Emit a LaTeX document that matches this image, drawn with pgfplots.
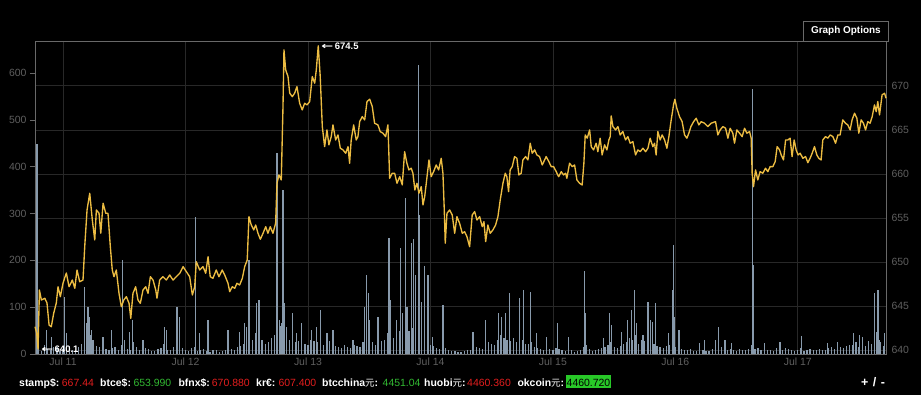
\documentclass[border=0pt]{standalone}
\usepackage{pgfplots}
\usepackage{pgfplotstable}
\pgfplotsset{compat=1.18}
\usepackage{fontspec}
\setmainfont{Liberation Sans}
\newfontfamily\cjk{Noto Sans CJK SC}
\newfontfamily\dejavu{DejaVu Sans}
\definecolor{gridc}{RGB}{40,40,40}
\definecolor{framec}{RGB}{105,105,105}
\definecolor{labc}{RGB}{95,95,95}
\definecolor{pricec}{RGB}{236,188,66}
\definecolor{volc}{RGB}{136,154,172}
\definecolor{redv}{RGB}{228,30,30}
\definecolor{greenv}{RGB}{50,185,50}
\definecolor{okbox}{RGB}{40,200,40}

\pgfplotstableread{
d p
-0.229 642.65
-0.215 641.93
-0.204 640.11
-0.193 646.82
-0.177 645.68
-0.149 645.88
-0.131 645.34
-0.114 642.84
-0.096 642.65
-0.076 644.20
-0.055 645.34
-0.041 647.19
-0.022 646.06
0.000 647.61
0.027 648.75
0.049 647.19
0.076 647.95
0.096 647.01
0.114 649.09
0.136 647.76
0.163 647.95
0.177 651.74
0.196 655.91
0.218 657.81
0.239 654.77
0.259 652.50
0.272 655.91
0.294 655.53
0.308 653.26
0.327 656.67
0.349 655.53
0.367 655.53
0.386 651.74
0.402 649.09
0.416 648.33
0.435 649.09
0.457 646.44
0.476 644.92
0.496 645.68
0.517 646.06
0.539 645.31
0.553 643.60
0.571 646.44
0.593 647.19
0.612 645.68
0.631 645.31
0.653 646.82
0.675 647.19
0.694 646.44
0.713 648.33
0.735 647.95
0.757 646.82
0.767 645.88
0.789 647.95
0.816 648.33
0.843 647.95
0.871 648.52
0.898 647.95
0.925 648.33
0.953 648.72
0.980 649.47
1.007 648.90
1.034 648.33
1.056 646.25
1.075 647.19
1.088 650.03
1.116 649.09
1.143 649.47
1.165 648.72
1.184 650.60
1.202 648.33
1.224 648.15
1.251 649.09
1.273 648.33
1.300 649.09
1.320 648.52
1.347 647.58
1.361 646.63
1.382 647.19
1.402 647.01
1.420 647.58
1.442 647.39
1.464 648.15
1.483 649.47
1.504 650.23
1.518 655.15
1.537 654.20
1.557 653.64
1.573 654.20
1.592 653.26
1.611 652.58
1.633 653.26
1.655 654.01
1.673 653.26
1.692 654.01
1.714 653.26
1.736 654.40
1.747 658.94
1.763 659.89
1.782 659.32
1.796 667.65
1.804 674.09
1.818 671.82
1.837 671.06
1.851 669.17
1.872 668.78
1.891 669.17
1.910 669.92
1.932 668.03
1.953 667.27
1.973 668.03
1.992 667.84
2.014 668.22
2.035 671.06
2.055 670.31
2.068 671.82
2.084 674.55
2.100 671.06
2.117 665.38
2.136 663.10
2.155 665.00
2.171 663.30
2.190 664.24
2.204 665.57
2.226 663.86
2.245 664.43
2.264 662.92
2.286 662.73
2.308 662.35
2.327 663.10
2.340 661.22
2.353 663.86
2.373 665.57
2.394 663.86
2.408 664.24
2.422 665.94
2.443 666.51
2.463 666.14
2.482 668.22
2.504 668.49
2.525 667.65
2.544 665.76
2.571 665.57
2.590 664.81
2.612 664.63
2.634 664.24
2.653 665.57
2.667 659.51
2.688 660.08
2.708 660.08
2.727 658.94
2.749 659.69
2.770 658.75
2.789 662.53
2.808 661.22
2.824 660.46
2.843 660.65
2.857 660.08
2.873 658.18
2.890 658.94
2.906 657.81
2.925 658.56
2.939 656.48
2.953 657.42
2.966 658.94
2.988 661.59
3.006 659.69
3.026 660.26
3.047 661.02
3.067 660.46
3.088 661.78
3.102 660.08
3.113 655.91
3.121 652.13
3.135 655.53
3.157 655.91
3.178 655.34
3.198 653.26
3.216 655.15
3.238 654.40
3.260 653.26
3.279 653.44
3.298 652.88
3.320 651.74
3.341 655.34
3.361 655.72
3.380 654.77
3.402 655.15
3.423 654.01
3.437 654.58
3.451 652.31
3.469 654.20
3.488 653.26
3.510 653.64
3.532 654.20
3.551 655.15
3.570 657.05
3.592 658.94
3.611 660.08
3.624 659.69
3.638 657.99
3.651 660.46
3.668 660.83
3.687 661.97
3.706 661.78
3.722 659.89
3.741 660.08
3.755 661.59
3.777 661.97
3.796 661.59
3.815 663.49
3.831 662.35
3.851 662.73
3.869 662.16
3.891 661.97
3.913 661.02
3.945 661.97
3.967 661.40
3.986 660.83
4.006 660.83
4.027 660.26
4.047 659.69
4.068 660.26
4.087 659.89
4.104 660.08
4.114 659.51
4.136 661.22
4.158 660.83
4.177 661.02
4.196 659.32
4.218 658.94
4.239 658.75
4.253 661.22
4.264 664.43
4.280 664.06
4.300 665.00
4.313 663.10
4.332 662.73
4.353 663.49
4.367 662.53
4.386 664.06
4.402 662.16
4.422 663.30
4.441 662.73
4.457 663.86
4.468 664.24
4.476 666.59
4.490 665.38
4.512 665.00
4.531 665.38
4.549 664.43
4.571 664.81
4.593 663.86
4.612 664.24
4.631 663.49
4.653 663.67
4.675 662.16
4.694 662.73
4.713 662.53
4.735 662.92
4.757 662.53
4.776 662.92
4.794 664.06
4.816 663.10
4.830 663.49
4.843 662.16
4.857 664.81
4.876 663.86
4.892 664.43
4.912 663.86
4.931 662.92
4.947 664.24
4.966 666.14
4.985 667.84
4.996 668.49
5.012 667.47
5.034 666.51
5.055 665.94
5.075 664.43
5.094 664.06
5.110 664.63
5.127 665.38
5.149 665.94
5.170 666.33
5.192 665.57
5.211 665.94
5.238 665.76
5.265 665.38
5.292 665.76
5.328 665.94
5.347 664.43
5.366 665.00
5.388 665.38
5.410 665.19
5.429 664.06
5.447 665.19
5.469 664.63
5.483 663.49
5.502 665.00
5.524 664.63
5.545 664.24
5.565 665.19
5.584 664.63
5.606 664.81
5.619 664.06
5.627 660.08
5.638 658.56
5.655 660.46
5.673 659.32
5.692 660.26
5.714 660.08
5.736 660.65
5.755 660.26
5.774 660.83
5.796 660.83
5.815 661.40
5.831 663.10
5.851 662.73
5.864 662.16
5.883 661.59
5.900 663.86
5.918 663.86
5.937 664.06
5.953 661.97
5.970 663.86
5.986 662.73
6.002 662.16
6.019 662.35
6.041 661.78
6.063 661.97
6.082 661.28
6.100 661.78
6.117 662.35
6.136 663.10
6.155 662.16
6.171 661.78
6.190 661.59
6.204 663.86
6.226 664.24
6.245 664.06
6.264 664.43
6.286 664.24
6.308 663.49
6.327 664.43
6.345 664.43
6.367 666.14
6.389 665.76
6.408 665.57
6.427 665.00
6.443 666.14
6.463 666.90
6.482 666.33
6.498 664.63
6.517 666.14
6.536 665.76
6.553 665.00
6.571 665.94
6.590 665.76
6.607 666.51
6.626 667.84
6.640 667.08
6.653 668.22
6.667 666.70
6.688 668.98
6.708 669.17
6.720 668.60
}\pricedata

\pgfplotstableread{
d v
-0.218 187
-0.212 448
-0.136 51
-0.096 37
0.014 122
0.027 45
0.177 144
0.190 66
0.204 101
0.218 80
0.231 51
0.245 30
0.327 37
0.394 51
0.484 201
0.504 30
0.544 48
0.566 73
0.653 30
0.830 58
0.843 51
0.931 101
0.953 80
1.083 293
1.116 44
1.184 73
1.347 51
1.442 48
1.483 66
1.496 58
1.518 201
1.578 108
1.600 115
1.728 30
1.747 429
1.769 73
1.782 66
1.796 350
1.810 108
1.823 58
1.872 87
1.904 44
1.945 66
2.027 51
2.068 58
2.104 94
2.155 44
2.204 51
2.367 30
2.463 101
2.476 169
2.492 130
2.504 73
2.571 80
2.661 247
2.672 115
2.721 73
2.753 226
2.770 87
2.797 333
2.808 101
2.843 237
2.863 245
2.879 169
2.904 617
2.912 297
2.925 112
2.953 187
2.980 169
3.020 37
3.102 105
3.347 46
3.447 73
3.559 87
3.578 80
3.614 87
3.646 130
3.728 119
3.761 137
3.815 133
3.864 44
3.945 37
4.035 66
4.125 37
4.259 177
4.267 87
4.414 34
4.463 88
4.476 62
4.563 48
4.612 73
4.642 94
4.669 137
4.680 66
4.735 41
4.776 112
4.794 73
4.810 69
4.838 108
4.947 44
4.974 137
4.982 233
4.996 80
5.029 51
5.197 23
5.238 30
5.328 30
5.355 58
5.406 30
5.461 23
5.627 566
5.635 190
5.728 23
5.855 26
6.027 38
6.245 23
6.327 26
6.455 44
6.504 41
6.531 37
6.626 130
6.640 48
6.655 137
6.667 30
6.708 44
}\spikes

\pgfplotstableread{
d v
-0.20 12
-0.175 6
-0.15 20
-0.125 10
-0.10 8
-0.075 14
-0.05 15
-0.025 7
0.00 10
0.025 12
0.05 18
0.075 8
0.10 9
0.125 15
0.15 22
0.175 30
0.20 35
0.225 40
0.25 28
0.275 18
0.30 15
0.325 12
0.35 10
0.375 9
0.40 12
0.425 14
0.45 8
0.475 20
0.50 14
0.525 11
0.55 9
0.575 25
0.60 16
0.625 8
0.65 7
0.675 12
0.70 11
0.725 7
0.75 6
0.775 10
0.80 13
0.825 22
0.85 9
0.875 8
0.90 15
0.925 18
0.95 10
0.975 12
1.00 8
1.025 7
1.05 12
1.075 15
1.10 6
1.125 8
1.15 10
1.175 6
1.20 5
1.225 9
1.25 8
1.275 5
1.30 6
1.325 8
1.35 12
1.375 10
1.40 9
1.425 15
1.45 18
1.475 22
1.50 25
1.525 35
1.55 30
1.575 45
1.60 40
1.625 30
1.65 22
1.675 25
1.70 35
1.725 40
1.75 45
1.775 60
1.80 55
1.825 40
1.85 30
1.875 35
1.90 25
1.925 28
1.95 35
1.975 22
2.00 20
2.025 30
2.05 28
2.075 25
2.10 32
2.125 20
2.15 18
2.175 28
2.20 25
2.225 18
2.25 15
2.275 12
2.30 20
2.325 16
2.35 12
2.375 20
2.40 18
2.425 15
2.45 25
2.475 40
2.50 30
2.525 25
2.55 20
2.575 35
2.60 28
2.625 30
2.65 45
2.675 50
2.70 35
2.725 45
2.75 50
2.775 60
2.80 40
2.825 50
2.85 55
2.875 65
2.90 45
2.925 55
2.95 38
2.975 30
3.00 20
3.025 18
3.05 12
3.075 10
3.10 15
3.125 12
3.15 8
3.175 6
3.20 6
3.225 5
3.25 5
3.275 7
3.30 8
3.325 9
3.35 10
3.375 14
3.40 12
3.425 10
3.45 18
3.475 25
3.50 22
3.525 20
3.55 30
3.575 40
3.60 35
3.625 30
3.65 28
3.675 35
3.70 25
3.725 28
3.75 30
3.775 22
3.80 22
3.825 25
3.85 15
3.875 12
3.90 10
3.925 8
3.95 12
3.975 10
4.00 8
4.025 12
4.05 10
4.075 8
4.10 7
4.125 10
4.15 9
4.175 5
4.20 6
4.225 8
4.25 15
4.275 20
4.30 10
4.325 7
4.35 8
4.375 10
4.40 12
4.425 15
4.45 20
4.475 25
4.50 15
4.525 12
4.55 18
4.575 22
4.60 25
4.625 35
4.65 30
4.675 40
4.70 22
4.725 30
4.75 28
4.775 35
4.80 25
4.825 22
4.85 18
4.875 15
4.90 12
4.925 18
4.95 20
4.975 30
5.00 15
5.025 12
5.05 10
5.075 8
5.10 8
5.125 10
5.15 6
5.175 7
5.20 9
5.225 9
5.25 7
5.275 6
5.30 10
5.325 12
5.35 12
5.375 15
5.40 8
5.425 9
5.45 10
5.475 8
5.50 7
5.525 10
5.55 9
5.575 8
5.60 11
5.625 20
5.65 10
5.675 12
5.70 8
5.725 9
5.75 9
5.775 8
5.80 7
5.825 12
5.85 10
5.875 9
5.90 12
5.925 10
5.95 8
5.975 7
6.00 9
6.025 12
6.05 7
6.075 9
6.10 10
6.125 8
6.15 8
6.175 10
6.20 9
6.225 9
6.25 12
6.275 14
6.30 10
6.325 18
6.35 15
6.375 12
6.40 18
6.425 20
6.45 20
6.475 25
6.50 15
6.525 22
6.55 18
6.575 28
6.60 22
6.625 30
6.65 25
6.675 25
6.70 18
}\filler

\pgfplotsset{
  base/.style={at={(35bp,41bp)}, anchor=south west, scale only axis,
    width=851bp, height=313bp, xmin=-0.229, xmax=6.72},
  tl/.style={ticklabel style={font=\fontsize{10.5}{12}\selectfont, text=labc},
    /pgf/number format/assume math mode=true},
}

\begin{document}
\begin{tikzpicture}
\fill[black] (0,0) rectangle (921bp,395bp);
\path[use as bounding box] (0,0) rectangle (921bp,395bp);

% grid, frame, right and bottom labels
\begin{axis}[base, tl, ymin=639.55, ymax=675.1,
  xtick={0,1,2,3,4,5,6},
  xticklabels={Jul 11,Jul 12,Jul 13,Jul 14,Jul 15,Jul 16,Jul 17},
  ytick={640,645,650,655,660,665,670}, yticklabel pos=right,
  yticklabel style={xshift=2bp},
  grid=major, major grid style={gridc, line width=0.8bp},
  axis line style={framec, line width=0.8bp},
  tick style={draw=none}]
\addplot[draw=none] coordinates {(0,650)};
\end{axis}

% volume bars, left axis
\begin{axis}[base, tl, ymin=0, ymax=668.8,
  xtick=\empty, ytick={0,100,200,300,400,500,600}, ytick pos=left,
  tick align=outside, major tick length=5bp,
  tick style={framec, line width=0.8bp},
  axis line style={draw=none}]
\addplot[ycomb, volc, line width=1.2bp, mark=none] table[x=d,y=v] {\filler};
\addplot[ycomb, volc, line width=1.2bp, mark=none] table[x=d,y=v] {\spikes};
\end{axis}

% price line
\begin{axis}[base, ymin=639.55, ymax=675.1, hide axis, clip=false]
\addplot[pricec, line width=1.35bp, mark=none, line join=round] table[x=d,y=p] {\pricedata};
\node[anchor=west, text=white, font=\bfseries\fontsize{9.5}{10}\selectfont, inner sep=0pt, xshift=3bp]
  at (axis cs:2.084,674.55) {{\dejavu\scalebox{1.5}[1]{←}}\,674.5};
\node[anchor=west, text=white, font=\bfseries\fontsize{9.5}{10}\selectfont, inner sep=0pt, xshift=3bp]
  at (axis cs:-0.204,640.11) {{\dejavu\scalebox{1.5}[1]{←}}\,640.1};
\end{axis}

% Graph Options
\node[draw=framec, line width=0.8bp, fill=black, text=white,
  font=\bfseries\fontsize{10}{12}\selectfont, minimum width=85bp, minimum height=20bp,
  anchor=south west, inner sep=0pt] at (803bp,353.5bp) {Graph Options};

% ticker
\tikzset{lab/.style={anchor=base west, inner sep=0pt, text=white, font=\bfseries\fontsize{10.5}{12}\selectfont},
  val/.style={anchor=base west, inner sep=0pt, font=\fontsize{10.5}{12}\selectfont}}
\node[lab] at (19bp,9bp) {stamp\$:};
\node[val, text=redv] at (61.7bp,9bp) {667.44};
\node[lab] at (100bp,9bp) {btce\$:};
\node[val, text=greenv] at (133.3bp,9bp) {653.990};
\node[lab] at (178.3bp,9bp) {bfnx\$:};
\node[val, text=redv] at (211.7bp,9bp) {670.880};
\node[lab] at (256bp,9bp) {kr€:};
\node[val, text=redv] at (278.3bp,9bp) {607.400};
\node[lab] at (322bp,9bp) {btcchina{\cjk\mdseries\fontsize{9.5}{12}\selectfont 元}:};
\node[val, text=greenv] at (382.5bp,9bp) {4451.04};
\node[lab] at (424bp,9bp) {huobi{\cjk\mdseries\fontsize{9.5}{12}\selectfont 元}:};
\node[val, text=redv] at (467bp,9bp) {4460.360};
\node[lab] at (517.3bp,9bp) {okcoin{\cjk\mdseries\fontsize{9.5}{12}\selectfont 元}:};
\fill[okbox] (566bp,6.5bp) rectangle (611bp,19.5bp);
\node[val, text=black, anchor=base] at (588.5bp,9bp) {4460.720};
\node[anchor=base west, inner sep=0pt, text=white, font=\bfseries\fontsize{12.5}{14}\selectfont]
  at (861bp,9bp) {+\hspace{4.5bp}/\hspace{4.5bp}-};
\end{tikzpicture}
\end{document}
